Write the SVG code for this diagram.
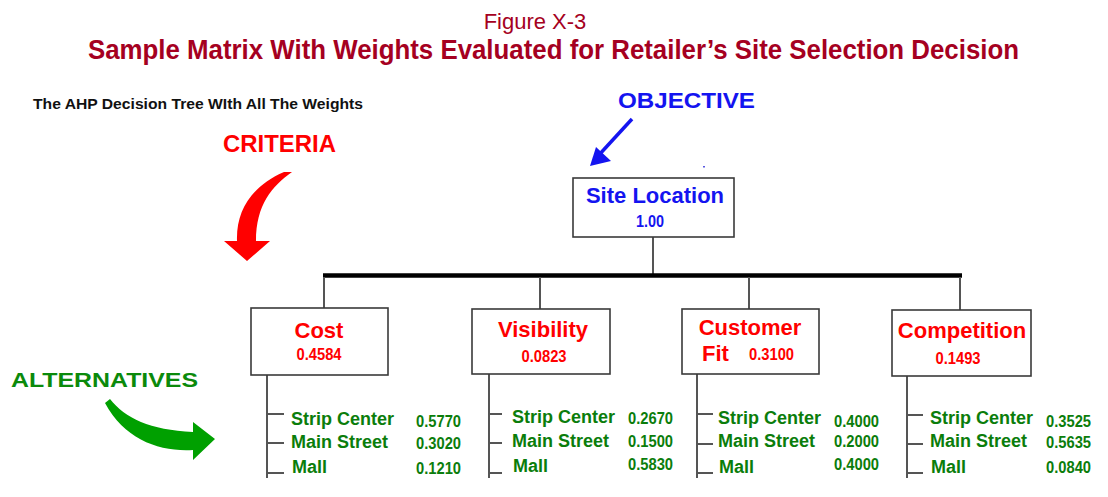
<svg xmlns="http://www.w3.org/2000/svg" width="1108" height="497" viewBox="0 0 1108 497">
  <style>
    .title { font-family: "Liberation Sans", Arial, sans-serif; fill: #A50021; }
    .box { fill: #ffffff; stroke: #3a3a3a; stroke-width: 1.6; }
    .link { stroke: #555555; stroke-width: 2; fill: none; }
    .bar { stroke: #000000; stroke-width: 4.3; fill: none; }
    .crit { font-family: "Liberation Sans", Arial, sans-serif; font-weight: bold; font-size: 22px; fill: #FF0000; }
    .cw { font-family: "Liberation Sans", Arial, sans-serif; font-weight: bold; font-size: 16px; fill: #FF0000; }
    .alt { font-family: "Liberation Sans", Arial, sans-serif; font-weight: bold; font-size: 18px; fill: #0B7D0B; }
    .aw { font-family: "Liberation Sans", Arial, sans-serif; font-weight: bold; font-size: 16px; fill: #0B7D0B; }
    .obj { font-family: "Liberation Sans", Arial, sans-serif; font-weight: bold; fill: #1414F0; }
  </style>

  <!-- headings -->
  <text class="title" x="535" y="29" font-size="22" text-anchor="middle">Figure X-3</text>
  <text class="title" x="88" y="59" font-size="27" font-weight="bold" textLength="931" lengthAdjust="spacingAndGlyphs">Sample Matrix With Weights Evaluated for Retailer’s Site Selection Decision</text>
  <text x="33" y="109" font-family="Liberation Sans, Arial, sans-serif" font-weight="bold" font-size="15.5" fill="#111111" textLength="330" lengthAdjust="spacingAndGlyphs">The AHP Decision Tree WIth All The Weights</text>

  <!-- level callouts -->
  <g id="callout-objective">
    <text class="obj" x="618" y="108" font-size="22" textLength="137" lengthAdjust="spacingAndGlyphs">OBJECTIVE</text>
    <line x1="632" y1="119" x2="598" y2="156" stroke="#1414F0" stroke-width="3.5"/>
    <polygon points="590,166 596,147 611,161" fill="#1414F0"/>
    <rect x="703" y="166" width="2" height="1.5" fill="#5a5ae0"/>
  </g>
  <g id="callout-criteria">
    <text x="223" y="152" font-family="Liberation Sans, Arial, sans-serif" font-weight="bold" font-size="23" fill="#FF0000" textLength="113" lengthAdjust="spacingAndGlyphs">CRITERIA</text>
    <path d="M 292,172 C 272,186 256,205 256,241 L 270,241 L 247,261 L 224,241 L 237,241 C 236,210 252,186 284,172 Z" fill="#FF0000"/>
  </g>
  <g id="callout-alternatives">
    <text x="11" y="387" font-family="Liberation Sans, Arial, sans-serif" font-weight="bold" font-size="21" fill="#0B8A0B" textLength="187" lengthAdjust="spacingAndGlyphs">ALTERNATIVES</text>
    <path d="M 110,399 C 125,418 150,430 193,432 L 193,422 L 215,439 L 193,460 L 193,450 C 160,452 125,440 105,403 Z" fill="#00A000"/>
  </g>

  <!-- connectors -->
  <g id="connectors">
    <line class="link" x1="653" y1="237" x2="653" y2="275"/>
    <line class="bar" x1="323" y1="275.5" x2="962" y2="275.5"/>
    <line class="link" x1="324" y1="277" x2="324" y2="308"/>
    <line class="link" x1="540" y1="277" x2="540" y2="309"/>
    <line class="link" x1="749" y1="277" x2="749" y2="309"/>
    <line class="link" x1="960" y1="277" x2="960" y2="310"/>

    <!-- alternative branches -->
    <path class="link" d="M 267,375 V 478 M 267,414 H 284 M 267,443 H 284 M 267,473 H 284"/>
    <path class="link" d="M 489,374 V 478 M 489,414 H 502 M 489,443 H 502 M 489,473 H 502"/>
    <path class="link" d="M 697,374 V 478 M 697,414 H 713 M 697,444 H 713 M 697,473 H 713"/>
    <path class="link" d="M 907,376 V 478 M 907,415 H 923 M 907,444 H 923 M 907,473 H 923"/>
  </g>

  <!-- objective -->
  <g id="site-location">
    <rect class="box" x="573" y="178" width="161" height="59"/>
    <text class="obj" x="655" y="203" font-size="22" text-anchor="middle">Site Location</text>
    <text class="obj" x="650" y="227" font-size="16" text-anchor="middle" textLength="28" lengthAdjust="spacingAndGlyphs">1.00</text>
  </g>

  <!-- criteria -->
  <g id="cost">
    <rect class="box" x="251" y="308" width="137" height="67"/>
    <text class="crit" x="319" y="338" text-anchor="middle">Cost</text>
    <text class="cw" x="319" y="360" text-anchor="middle" textLength="45" lengthAdjust="spacingAndGlyphs">0.4584</text>
  </g>
  <g id="visibility">
    <rect class="box" x="472" y="309" width="138" height="65"/>
    <text class="crit" x="543" y="337" text-anchor="middle">Visibility</text>
    <text class="cw" x="544" y="362" text-anchor="middle" textLength="45" lengthAdjust="spacingAndGlyphs">0.0823</text>
  </g>
  <g id="customer-fit">
    <rect class="box" x="682" y="309" width="137" height="65"/>
    <text class="crit" x="750" y="335" text-anchor="middle">Customer</text>
    <text class="crit" x="702" y="361">Fit</text>
    <text class="cw" x="749" y="360" textLength="45" lengthAdjust="spacingAndGlyphs">0.3100</text>
  </g>
  <g id="competition">
    <rect class="box" x="892" y="310" width="139" height="66"/>
    <text class="crit" x="962" y="338" text-anchor="middle">Competition</text>
    <text class="cw" x="958" y="364" text-anchor="middle" textLength="45" lengthAdjust="spacingAndGlyphs">0.1493</text>
  </g>

  <!-- alternatives under each criterion -->
  <g id="cost-alternatives">
    <text class="alt" x="291" y="425">Strip Center</text>
    <text class="alt" x="291" y="448">Main Street</text>
    <text class="alt" x="292" y="473">Mall</text>
    <text class="aw" x="416" y="427" textLength="45" lengthAdjust="spacingAndGlyphs">0.5770</text>
    <text class="aw" x="416" y="449" textLength="45" lengthAdjust="spacingAndGlyphs">0.3020</text>
    <text class="aw" x="416" y="474" textLength="45" lengthAdjust="spacingAndGlyphs">0.1210</text>
  </g>
  <g id="visibility-alternatives">
    <text class="alt" x="512" y="423">Strip Center</text>
    <text class="alt" x="512" y="447">Main Street</text>
    <text class="alt" x="513" y="472">Mall</text>
    <text class="aw" x="628" y="424" textLength="45" lengthAdjust="spacingAndGlyphs">0.2670</text>
    <text class="aw" x="628" y="447" textLength="45" lengthAdjust="spacingAndGlyphs">0.1500</text>
    <text class="aw" x="628" y="470" textLength="45" lengthAdjust="spacingAndGlyphs">0.5830</text>
  </g>
  <g id="customer-fit-alternatives">
    <text class="alt" x="718" y="424">Strip Center</text>
    <text class="alt" x="718" y="447">Main Street</text>
    <text class="alt" x="719" y="473">Mall</text>
    <text class="aw" x="834" y="427" textLength="45" lengthAdjust="spacingAndGlyphs">0.4000</text>
    <text class="aw" x="834" y="447" textLength="45" lengthAdjust="spacingAndGlyphs">0.2000</text>
    <text class="aw" x="834" y="470" textLength="45" lengthAdjust="spacingAndGlyphs">0.4000</text>
  </g>
  <g id="competition-alternatives">
    <text class="alt" x="930" y="424">Strip Center</text>
    <text class="alt" x="930" y="447">Main Street</text>
    <text class="alt" x="931" y="473">Mall</text>
    <text class="aw" x="1046" y="427" textLength="45" lengthAdjust="spacingAndGlyphs">0.3525</text>
    <text class="aw" x="1046" y="448" textLength="45" lengthAdjust="spacingAndGlyphs">0.5635</text>
    <text class="aw" x="1046" y="473" textLength="45" lengthAdjust="spacingAndGlyphs">0.0840</text>
  </g>
</svg>
